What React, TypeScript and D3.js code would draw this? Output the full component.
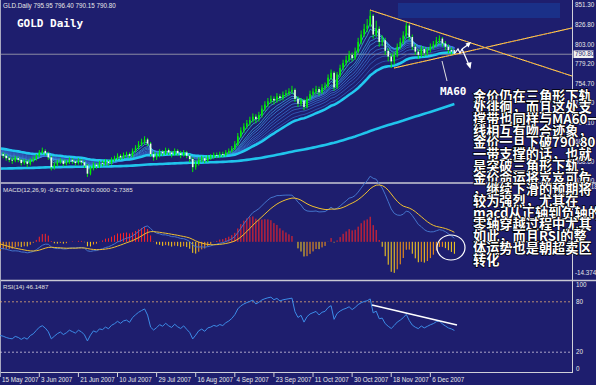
import React from "react";
import * as d3 from "d3";

// ---------- DATA ----------
const opens = [670,668,666,663,661,660,663,661,657,659,
656,660,662,666,670,672,669,664,652,655,
658,660,656,658,661,659,657,660,658,654,
644,650,655,653,657,656,659,657,661,663,
666,664,667,668,666,672,676,680,683,686,
681,668,664,667,671,669,673,670,668,672,
669,667,670,666,662,652,656,661,663,660,
664,665,667,666,668,667,670,672,675,680,
690,697,702,706,710,714,711,716,724,729,
733,736,734,739,737,741,743,745,747,736,
730,734,726,736,742,745,748,744,750,752,
762,768,750,766,774,780,784,790,786,794,
806,815,822,826,838,815,822,806,808,795,
788,782,790,800,806,814,826,812,800,794,
790,797,792,796,800,803,808,810,804,800,
796,795.95];
const highs = [673,670,668,665,664,666,665,662,662,661,
663,665,668,673,676,674,671,666,658,661,
663,662,661,664,663,661,663,662,660,656,
653,658,657,660,660,662,661,664,666,669,
668,670,671,670,675,679,684,687,690,688,
683,671,670,674,673,676,675,672,675,674,
672,673,672,668,664,660,664,666,665,667,
668,670,670,671,671,673,675,678,684,694,
701,706,710,714,718,717,720,728,733,737,
740,739,743,742,745,747,749,752,749,739,
737,736,739,746,749,752,751,754,756,766,
772,770,769,778,784,789,795,793,799,811,
820,828,834,845,840,832,825,814,811,798,
792,794,804,811,819,830,828,815,803,797,
801,800,799,804,807,812,814,812,807,803,
799,796.4];
const lows = [664,663,660,658,656,658,658,654,655,652,
654,658,660,664,668,666,661,648,649,653,
656,653,654,656,656,654,655,655,651,640,
642,648,650,651,653,654,654,655,659,661,
661,662,664,663,664,670,674,678,680,678,
665,660,661,664,666,667,667,664,666,666,
663,665,663,658,646,649,654,658,657,658,
661,662,663,663,664,665,668,670,673,678,
688,694,699,703,707,706,708,713,721,726,
730,729,731,733,734,738,740,742,732,726,
727,722,724,734,739,742,740,742,747,750,
759,746,748,763,771,777,781,782,784,792,
803,812,818,824,810,812,800,801,790,782,
774,778,787,797,803,810,808,796,790,785,
787,788,789,793,797,800,804,800,796,792,
790,790.15];
const closes = [668,666,663,661,660,663,661,657,659,656,
660,662,666,670,672,669,664,652,655,658,
660,656,658,661,659,657,660,658,654,644,
650,655,653,657,656,659,657,661,663,666,
664,667,668,666,672,676,680,683,686,681,
668,664,667,671,669,673,670,668,672,669,
667,670,666,662,652,656,661,663,660,664,
665,667,666,668,667,670,672,675,680,690,
697,702,706,710,714,711,716,724,729,733,
736,734,739,737,741,743,745,747,736,730,
734,726,736,742,745,748,744,750,752,762,
768,750,766,774,780,784,790,786,794,806,
815,822,826,838,815,822,806,808,795,788,
782,790,800,806,814,826,812,800,794,790,
797,792,796,800,803,808,810,804,800,796,
794,790.8];

// moving-average ribbon: periods (in bars of this chart) and starting levels read at the left edge
const ribbonPeriods = [3, 5, 8, 10, 12, 15, 18, 21, 25, 30];
const ribbonSeeds = [667, 668, 669, 670, 671, 672, 673, 674, 675, 675];
const ma60Period = 36;
const ma60Seed = 675;
const ma120Period = 120;
const ma120Before = 650; // level of the long average before the first visible bar

const priceTicks = [851.3, 826.8, 803.0, 779.2, 754.7, 730.9, 707.1, 683.3, 658.8, 635.0];
const lastPrice = 790.8;
const macdTop = 21.3918;
const macdBottom = -14.3743;
const rsiTicks = [100, 80, 20, 0];
const dateTickIdx = [0, 13, 26, 39, 52, 65, 78, 91, 104, 117, 130, 143];
const dateLabels = ["15 May 2007", "3 Jun 2007", "21 Jun 2007", "10 Jul 2007", "29 Jul 2007", "16 Aug 2007",
  "4 Sep 2007", "23 Sep 2007", "11 Oct 2007", "30 Oct 2007", "18 Nov 2007", "6 Dec 2007"];

const noteLines = [
  "金价仍在三角形下轨",
  "处徘徊，而且这处支",
  "撑带也同样与MA60一",
  "线相互有吻合迹象，",
  "金价一旦下破790.80",
  "一带支撑的话，也就",
  "是突破三角形下轨，",
  "金价命运将岌岌可危",
  "，继续下滑的预期将",
  "较为强烈，尤其在",
  "macd从正轴到负轴的",
  "零轴穿越过程中尤其",
  "如此，而且RSI的整",
  "体运势也是朝超卖区",
  "转化",
];

// ---------- helpers ----------
function ema(src: number[], period: number, seed: number) {
  const a = 2 / (period + 1);
  const out: number[] = [];
  let v = seed;
  src.forEach((c, i) => {
    if (i > 0) v = v + a * (c - v);
    out.push(v);
  });
  return out;
}

function sma(src: number[], period: number, before: number) {
  return src.map((_, i) => {
    let s = 0;
    for (let k = i - period + 1; k <= i; k++) s += k >= 0 ? src[k] : before;
    return s / period;
  });
}

function rsi(src: number[], period: number, g0: number, l0: number) {
  let ag = g0, al = l0;
  const out: number[] = [100 - 100 / (1 + ag / al)];
  for (let i = 1; i < src.length; i++) {
    const ch = src[i] - src[i - 1];
    ag = (ag * (period - 1) + Math.max(ch, 0)) / period;
    al = (al * (period - 1) + Math.max(-ch, 0)) / period;
    out.push(100 - 100 / (1 + ag / al));
  }
  return out;
}

const BG = "#1e1e6e";
const AX = "#d0d0d8";
const ribbonColors = ["#48d8e8", "#40c8ec", "#3cb8ee", "#3ea8f0", "#4098ee", "#408ce8",
  "#3c80e0", "#3a76d8", "#386ed0", "#3466c8"];

export default function App() {
  const n = closes.length;
  const x = d3.scaleLinear().domain([0, n - 1]).range([0.2, 454.4]);
  const y = d3.scaleLinear().domain([635.0, 851.3]).range([181, 5]);
  const ym = d3.scaleLinear().domain([macdBottom, macdTop]).range([280, 185]);
  const yr = d3.scaleLinear().domain([0, 100]).range([369, 285]);

  const line = (sc: d3.ScaleLinear<number, number>) =>
    d3.line<number>().x((_, i) => x(i)).y((d) => sc(d));

  const ribbons = ribbonPeriods.map((p, k) => ema(closes, p, ribbonSeeds[k]));
  const ma60 = ema(closes, ma60Period, ma60Seed);
  const ma120 = sma(closes, ma120Period, ma120Before);

  const e12 = ema(closes, 12, 669);
  const e26 = ema(closes, 26, 671.5);
  const dif = e12.map((v, i) => v - e26[i]);
  const dea = ema(dif, 9, -0.8);
  const hist = dif.map((v, i) => 2 * (v - dea[i]));
  const rsiVals = rsi(closes, 14, 2.4, 3.6);

  const labelFont = "Liberation Sans, Arial, sans-serif";

  return (
    <svg width={596} height={385} style={{ position: "absolute", left: 0, top: 0 }}
      xmlns="http://www.w3.org/2000/svg">
      <rect x={0} y={0} width={596} height={385} fill={BG} />
      {/* top blue box */}
      <rect x={398} y={3} width={162} height={15} fill="#1a3088" />

      {/* bid line */}
      <line x1={0} x2={572} y1={y(lastPrice)} y2={y(lastPrice)} stroke="#8c8ca4" strokeWidth={1} />

      {/* ribbon MAs */}
      {ribbons.map((r, k) => (
        <path key={k} d={line(y)(r) || ""} fill="none" stroke={ribbonColors[k]} strokeWidth={0.8} opacity={0.85} />
      ))}
      <path d={line(y)(ma120) || ""} fill="none" stroke="#20c4ec" strokeWidth={2.6} />
      <path d={line(y)(ma60) || ""} fill="none" stroke="#22c8f0" strokeWidth={2.6} />

      {/* candles */}
      {closes.map((c, i) => {
        const o = opens[i];
        const up = c >= o;
        const top = y(Math.max(o, c));
        const bot = y(Math.min(o, c));
        return (
          <g key={i}>
            <line x1={x(i)} x2={x(i)} y1={y(highs[i])} y2={y(lows[i])} stroke="#00f000" strokeWidth={1} />
            <rect x={x(i) - 0.8} y={top} width={1.6} height={Math.max(bot - top, 0.8)}
              fill={up ? "#00f000" : "#e8ffe8"} />
          </g>
        );
      })}

      {/* triangle lines */}
      {[[370, 10, 572, 76], [394, 68, 572, 28]].map((s, k) => (
        <g key={k}>
          <line x1={s[0]} y1={s[1]} x2={s[2]} y2={s[3]} stroke="#ffe070" strokeWidth={1} />
          <line x1={s[0]} y1={s[1]} x2={s[2]} y2={s[3]} stroke="#f09020" strokeWidth={1} strokeDasharray="2 2" />
        </g>
      ))}

      {/* arrows */}
      <polyline points="455,53 458,49 460,53 462,49" fill="none" stroke="#fff" strokeWidth={1.2} />
      <line x1={462} y1={49} x2={469} y2={44} stroke="#fff" strokeWidth={1.2} />
      <polygon points="471,42 465.5,43.5 468.5,47.5" fill="#fff" />
      <line x1={462} y1={49} x2={469} y2={65} stroke="#fff" strokeWidth={1.2} />
      <polygon points="470.5,69 466,63.5 471.5,62" fill="#fff" />
      {/* MA60 pointer */}
      <line x1={442} y1={61} x2={447} y2={81} stroke="#e0e0e0" strokeWidth={1} />
      <text x={440} y={95} fill="#fff" fontFamily="DejaVu Sans Mono, monospace" fontWeight="bold" fontSize={11}>MA60</text>

      {/* titles */}
      <text x={3} y={8} fill="#e8e8e8" fontFamily={labelFont} fontSize={6.3}>GLD.Daily  795.95 796.40 790.15 790.80</text>
      <text x={17} y={27} fill="#fff" fontFamily="DejaVu Sans Mono, monospace" fontWeight="bold" fontSize={11}>GOLD Daily</text>

      {/* panel separators and frame */}
      <line x1={0} x2={596} y1={183} y2={183} stroke="#c8c8d4" strokeWidth={1.6} />
      <line x1={0} x2={596} y1={280.5} y2={280.5} stroke="#c8c8d4" strokeWidth={1.6} />
      <line x1={0} x2={573} y1={372.5} y2={372.5} stroke={AX} strokeWidth={1} />
      <line x1={572.5} x2={572.5} y1={0} y2={373} stroke={AX} strokeWidth={1} />
      <line x1={0.5} x2={0.5} y1={0} y2={373} stroke="#a8a8c0" strokeWidth={1} />

      {/* price axis */}
      {priceTicks.map((t, k) => (
        <text key={k} x={575} y={y(t) + 2.2} fill="#e8e8e8" fontFamily={labelFont} fontSize={6.3}>{t.toFixed(2)}</text>
      ))}
      <rect x={573.5} y={y(lastPrice) - 3.8} width={20} height={7.6} fill="#f0f0f0" />
      <text x={575} y={y(lastPrice) + 2.2} fill={BG} fontFamily={labelFont} fontSize={6.3}>{lastPrice.toFixed(2)}</text>

      {/* MACD */}
      <text x={3} y={192} fill="#e0e0e0" fontFamily={labelFont} fontSize={6.2}>MACD(12,26,9) -0.4272 0.9420 0.0000 -2.7385</text>
      {hist.map((h, i) => {
        const prev = i > 0 ? hist[i - 1] : h;
        const col = h >= 0 ? "#ff2424" : (h < prev ? "#ffd21a" : "#ff9a10");
        return <line key={i} x1={x(i)} x2={x(i)} y1={ym(0)} y2={ym(h)} stroke={col} strokeWidth={1} />;
      })}
      <path d={line(ym)(dif) || ""} fill="none" stroke="#4474cc" strokeWidth={1} />
      <path d={line(ym)(dea) || ""} fill="none" stroke="#f0c030" strokeWidth={1} />
      <ellipse cx={451} cy={247.5} rx={14} ry={12.5} fill="none" stroke="#fff" strokeWidth={1.2} />
      <text x={575} y={188.5} fill="#e8e8e8" fontFamily={labelFont} fontSize={6.3}>{macdTop.toFixed(4)}</text>
      <text x={575} y={275} fill="#e8e8e8" fontFamily={labelFont} fontSize={6.3}>{macdBottom.toFixed(4)}</text>

      {/* RSI */}
      <text x={3} y={289} fill="#e0e0e0" fontFamily={labelFont} fontSize={6.2}>RSI(14) 46.1487</text>
      <line x1={0} x2={572} y1={yr(80)} y2={yr(80)} stroke="#e0a878" strokeWidth={0.8} strokeDasharray="2 2" />
      <line x1={0} x2={572} y1={yr(20)} y2={yr(20)} stroke="#d0c8e0" strokeWidth={0.8} strokeDasharray="2 2" />
      <path d={line(yr)(rsiVals) || ""} fill="none" stroke="#3c8ce8" strokeWidth={1} />
      <line x1={372} y1={305} x2={457} y2={325} stroke="#fff" strokeWidth={1.4} />
      {rsiTicks.map((t, k) => (
        <text key={k} x={576} y={yr(t) + 2.2} fill="#e8e8e8" fontFamily={labelFont} fontSize={6.3}>{t}</text>
      ))}

      {/* date axis */}
      {dateTickIdx.map((di, k) => (
        <g key={k}>
          <line x1={x(di)} x2={x(di)} y1={373} y2={377} stroke={AX} strokeWidth={1} />
          <text x={x(di) + 1.8} y={382} fill="#e8e8e8" fontFamily={labelFont} fontSize={6.3}>{dateLabels[k]}</text>
        </g>
      ))}

      {/* annotation */}
      <g fontFamily="Noto Sans CJK SC, sans-serif" fontWeight="bold" fontSize={13.2} fill="#fff"
        stroke="#000" strokeWidth={1.4} style={{ paintOrder: "stroke" }}>
        {noteLines.map((s, k) => (
          <text key={k} x={473} y={100.5 + k * 11.72}>{s}</text>
        ))}
      </g>
    </svg>
  );
}
